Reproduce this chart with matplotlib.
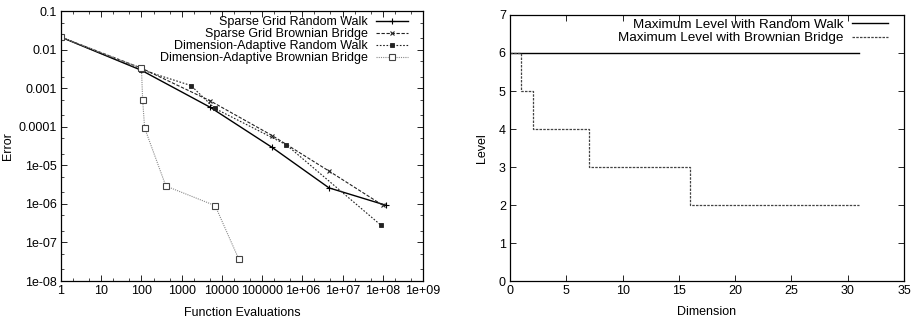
import numpy as np
import matplotlib.pyplot as plt
from matplotlib.ticker import LogLocator, FixedLocator, NullFormatter

plt.rcParams['font.family'] = ['Liberation Sans', 'DejaVu Sans']
plt.rcParams['font.size'] = 9

# left panel: error vs. function evaluations
sg_rw_n = [1, 100, 5100, 1.78e5, 4.6e6, 1.2e8]
sg_rw_err = [0.021, 0.0029, 3.2e-4, 2.9e-5, 2.6e-6, 9.2e-7]

sg_bb_n = [1, 100, 5100, 1.78e5, 4.6e6, 1.0e8]
sg_bb_err = [0.021, 0.0033, 4.7e-4, 5.9e-5, 7.1e-6, 9.2e-7]

da_rw_n = [1, 100, 1700, 6600, 4.0e5, 9.0e7]
da_rw_err = [0.021, 0.0030, 0.00117, 3.0e-4, 3.4e-5, 2.8e-7]

da_bb_n = [1, 100, 107, 120, 405, 6800, 2.6e4]
da_bb_err = [0.021, 0.0033, 5.0e-4, 9.3e-5, 2.9e-6, 9.0e-7, 3.8e-8]

# right panel: maximum level per dimension
dims = [0, 1, 2, 7, 16, 31]
level_rw = [6, 6, 6, 6, 6, 6]
level_bb = [6, 5, 4, 3, 2, 2]

fig = plt.figure(figsize=(9.16, 3.19), dpi=100)
ax1 = fig.add_axes([0.0666, 0.119, 0.3952, 0.8465])
ax2 = fig.add_axes([0.5568, 0.119, 0.4301, 0.834])

ax1.plot(sg_rw_n, sg_rw_err, color='black', lw=1.0, ls='-', marker='+', ms=4,
         mew=0.8, label='Sparse Grid Random Walk')
ax1.plot(sg_bb_n, sg_bb_err, color='#222222', lw=0.8, ls=(0, (3, 1.5)), marker='x', ms=3.5,
         mew=0.8, label='Sparse Grid Brownian Bridge')
ax1.plot(da_rw_n, da_rw_err, color='#222222', lw=0.8, ls=(0, (1.5, 1.5)), marker='s', ms=3,
         mew=0.6, label='Dimension-Adaptive Random Walk')
ax1.plot(da_bb_n, da_bb_err, color='#8a8a8a', lw=0.8, ls=(0, (1, 1)), marker='s', ms=4,
         mfc='white', mec='#444444', mew=0.8, label='Dimension-Adaptive Brownian Bridge')

ax1.set_xscale('log')
ax1.set_yscale('log')
ax1.set_xlim(1, 1e9)
ax1.set_ylim(1e-8, 0.1)
ax1.xaxis.set_major_locator(FixedLocator([10.0 ** k for k in range(10)]))
ax1.set_xticklabels(['1', '10', '100', '1000', '10000', '100000',
                     '1e+06', '1e+07', '1e+08', '1e+09'])
ax1.yaxis.set_major_locator(FixedLocator([10.0 ** k for k in range(-8, 0)]))
ax1.set_yticklabels(['1e-08', '1e-07', '1e-06', '1e-05', '0.0001',
                     '0.001', '0.01', '0.1'])
# gnuplot puts log minor tics at 2 and 5 only
ax1.xaxis.set_minor_locator(LogLocator(base=10, subs=[2, 5], numticks=20))
ax1.yaxis.set_minor_locator(LogLocator(base=10, subs=[2, 5], numticks=20))
ax1.xaxis.set_minor_formatter(NullFormatter())
ax1.yaxis.set_minor_formatter(NullFormatter())
ax1.set_xlabel('Function Evaluations', labelpad=7)
ax1.set_ylabel('Error', labelpad=3)
ax1.legend(loc='upper right', bbox_to_anchor=(0.966, 0.989), frameon=False,
           markerfirst=False, handlelength=2.6, labelspacing=0.0, borderaxespad=0,
           handletextpad=0.6, borderpad=0.2)

ax2.plot(dims, level_rw, color='black', lw=1.0, drawstyle='steps-post',
         label='Maximum Level with Random Walk')
ax2.plot(dims, level_bb, color='#444444', lw=0.9, ls=(0, (2, 1)), drawstyle='steps-post',
         label='Maximum Level with Brownian Bridge')
ax2.set_xlim(0, 35)
ax2.set_ylim(0, 7)
ax2.set_xticks(range(0, 36, 5))
ax2.set_yticks(range(0, 8))
ax2.set_xlabel('Dimension', labelpad=6)
ax2.set_ylabel('Level', labelpad=8)
ax2.legend(loc='upper right', bbox_to_anchor=(0.966, 0.996), frameon=False,
           markerfirst=False, handlelength=2.7, labelspacing=0.05, borderaxespad=0,
           handletextpad=0.6, borderpad=0.2, fontsize=9.7)

for ax in (ax1, ax2):
    ax.tick_params(which='both', direction='in', top=True, right=True, pad=3)
    ax.tick_params(which='major', length=4, width=0.6)
    ax.tick_params(which='minor', length=2, width=0.5)
    for sp in ax.spines.values():
        sp.set_linewidth(0.9)

fig.savefig('out.png', dpi=100)
